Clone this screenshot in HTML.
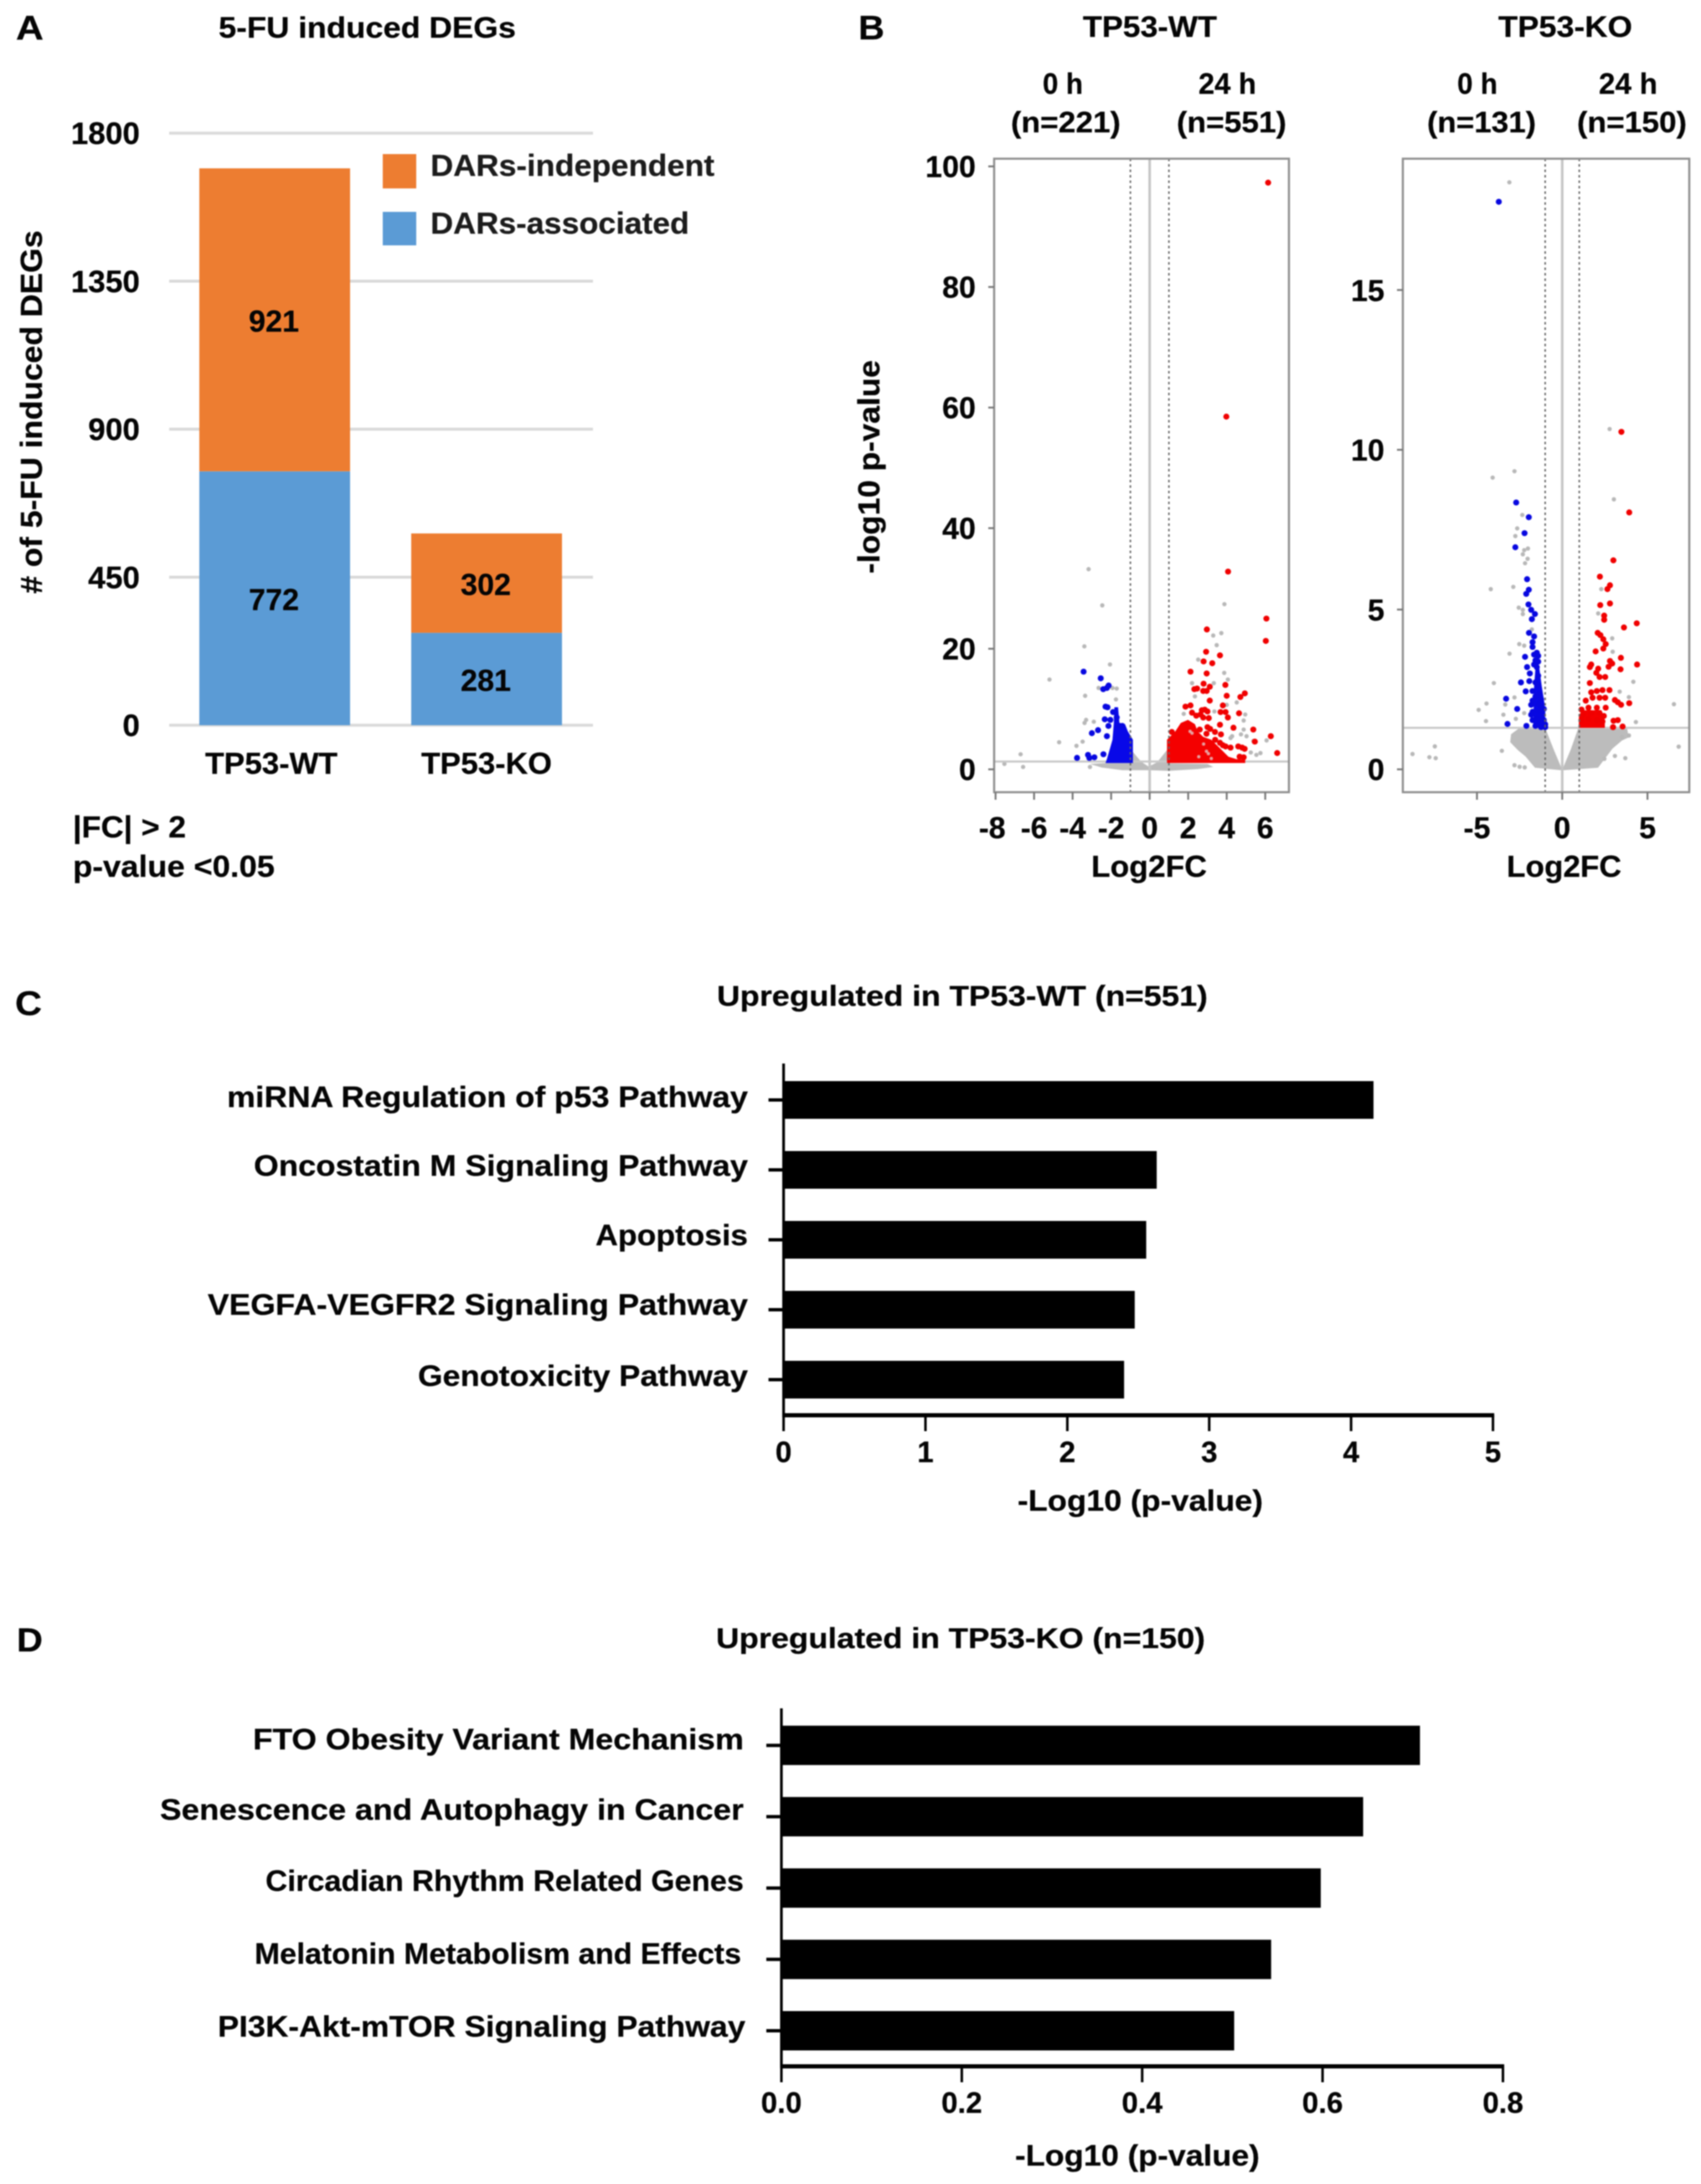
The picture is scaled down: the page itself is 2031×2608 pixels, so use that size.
<!DOCTYPE html>
<html lang="en">
<head>
<meta charset="utf-8">
<title>5-FU induced DEGs figure</title>
<style>
html,body{margin:0;padding:0;background:#fff;}
svg{display:block;filter:blur(0.7px);}
text{font-family:"Liberation Sans",Arial,sans-serif;font-weight:700;fill:#050505;stroke:#050505;stroke-width:0.3px;}
</style>
</head>
<body>
<svg id="figure" xmlns="http://www.w3.org/2000/svg" width="2031" height="2608" viewBox="0 0 2031 2608">
<rect width="2031" height="2608" fill="#fff"/>

<!-- Panel letters -->
<text x="19" y="47" font-size="41" textLength="33" lengthAdjust="spacingAndGlyphs">A</text>
<text x="1025" y="47" font-size="41" textLength="31" lengthAdjust="spacingAndGlyphs">B</text>
<text x="18" y="1212" font-size="41" textLength="32" lengthAdjust="spacingAndGlyphs">C</text>
<text x="20" y="1972" font-size="40" textLength="31" lengthAdjust="spacingAndGlyphs">D</text>

<!-- Panel A static text -->
<g id="panel-a">
<g id="a-grid"></g>
<g id="a-bars"></g>
<g id="a-ticks"></g>
<text x="261" y="45" font-size="35" textLength="355" lengthAdjust="spacingAndGlyphs">5-FU induced DEGs</text>
<text transform="translate(50,709) rotate(-90)" font-size="36" textLength="434" lengthAdjust="spacingAndGlyphs"># of 5-FU induced DEGs</text>
<rect x="457" y="184" width="40" height="41" fill="#ED7D31"/>
<rect x="457" y="253" width="40" height="40" fill="#5B9BD5"/>
<text x="514" y="210" font-size="36" textLength="339" lengthAdjust="spacingAndGlyphs" style="fill:#1c1c1c;stroke:#1c1c1c">DARs-independent</text>
<text x="514" y="279" font-size="36" textLength="309" lengthAdjust="spacingAndGlyphs" style="fill:#1c1c1c;stroke:#1c1c1c">DARs-associated</text>
<text x="245" y="924" font-size="36" textLength="158" lengthAdjust="spacingAndGlyphs">TP53-WT</text>
<text x="503" y="924" font-size="36" textLength="156" lengthAdjust="spacingAndGlyphs">TP53-KO</text>
<text x="87" y="1000" font-size="36" textLength="135" lengthAdjust="spacingAndGlyphs">|FC| &gt; 2</text>
<text x="87" y="1047" font-size="36" textLength="241" lengthAdjust="spacingAndGlyphs">p-value &lt;0.05</text>
</g>

<!-- Panel B static text -->
<g id="panel-b">
<text x="1293" y="44" font-size="35" textLength="160" lengthAdjust="spacingAndGlyphs">TP53-WT</text>
<text x="1789" y="44" font-size="35" textLength="160" lengthAdjust="spacingAndGlyphs">TP53-KO</text>
<text x="1245" y="112" font-size="35" textLength="48" lengthAdjust="spacingAndGlyphs">0 h</text>
<text x="1207" y="158" font-size="35" textLength="131" lengthAdjust="spacingAndGlyphs">(n=221)</text>
<text x="1431" y="112" font-size="35" textLength="69" lengthAdjust="spacingAndGlyphs">24 h</text>
<text x="1405" y="158" font-size="35" textLength="131" lengthAdjust="spacingAndGlyphs">(n=551)</text>
<text x="1740" y="112" font-size="35" textLength="48" lengthAdjust="spacingAndGlyphs">0 h</text>
<text x="1704" y="158" font-size="35" textLength="130" lengthAdjust="spacingAndGlyphs">(n=131)</text>
<text x="1909" y="112" font-size="35" textLength="70" lengthAdjust="spacingAndGlyphs">24 h</text>
<text x="1883" y="158" font-size="35" textLength="131" lengthAdjust="spacingAndGlyphs">(n=150)</text>
<text transform="translate(1050,685) rotate(-90)" font-size="36" textLength="255" lengthAdjust="spacingAndGlyphs">-log10 p-value</text>
<text x="1303" y="1047" font-size="36" textLength="138" lengthAdjust="spacingAndGlyphs">Log2FC</text>
<text x="1799" y="1047" font-size="36" textLength="137" lengthAdjust="spacingAndGlyphs">Log2FC</text>
<g id="volcano-wt"></g>
<g id="volcano-ko"></g>
</g>

<!-- Panel C static text -->
<g id="panel-c">
<text x="856" y="1201" font-size="34" textLength="586" lengthAdjust="spacingAndGlyphs">Upregulated in TP53-WT (n=551)</text>
<text x="271" y="1322" font-size="35" textLength="622" lengthAdjust="spacingAndGlyphs">miRNA Regulation of p53 Pathway</text>
<text x="303" y="1404" font-size="35" textLength="590" lengthAdjust="spacingAndGlyphs">Oncostatin M Signaling Pathway</text>
<text x="711" y="1487" font-size="35" textLength="182" lengthAdjust="spacingAndGlyphs">Apoptosis</text>
<text x="248" y="1570" font-size="35" textLength="645" lengthAdjust="spacingAndGlyphs">VEGFA-VEGFR2 Signaling Pathway</text>
<text x="499" y="1655" font-size="35" textLength="394" lengthAdjust="spacingAndGlyphs">Genotoxicity Pathway</text>
<text x="1215" y="1804" font-size="35" textLength="293" lengthAdjust="spacingAndGlyphs">-Log10 (p-value)</text>
<g id="c-chart"></g>
</g>

<!-- Panel D static text -->
<g id="panel-d">
<text x="855" y="1968" font-size="34" textLength="584" lengthAdjust="spacingAndGlyphs">Upregulated in TP53-KO (n=150)</text>
<text x="302" y="2089" font-size="35" textLength="586" lengthAdjust="spacingAndGlyphs">FTO Obesity Variant Mechanism</text>
<text x="191" y="2173" font-size="35" textLength="697" lengthAdjust="spacingAndGlyphs">Senescence and Autophagy in Cancer</text>
<text x="317" y="2258" font-size="35" textLength="571" lengthAdjust="spacingAndGlyphs">Circadian Rhythm Related Genes</text>
<text x="304" y="2345" font-size="35" textLength="581" lengthAdjust="spacingAndGlyphs">Melatonin Metabolism and Effects</text>
<text x="260" y="2432" font-size="35" textLength="630" lengthAdjust="spacingAndGlyphs">PI3K-Akt-mTOR Signaling Pathway</text>
<text x="1212" y="2586" font-size="35" textLength="292" lengthAdjust="spacingAndGlyphs">-Log10 (p-value)</text>
<g id="d-chart"></g>
</g>
</svg>

<script>
// ---- Panel A data ----
const stackedTicks = [0, 450, 900, 1350, 1800];
const associatedCounts = [772, 281];
const independentCounts = [921, 302];

// ---- Panel C / D data ----
const wtPathwayValues = [4.158, 2.63, 2.556, 2.475, 2.4];
const wtPathwayTicks = [0, 1, 2, 3, 4, 5];
const koPathwayValues = [0.708, 0.645, 0.598, 0.543, 0.502];
const koPathwayTicks = ["0.0", "0.2", "0.4", "0.6", "0.8"];

// ---- Volcano axis data ----
const wtXTicks = [-8, -6, -4, -2, 0, 2, 4, 6];
const wtYTicks = [0, 20, 40, 60, 80, 100];
const koXTicks = [-5, 0, 5];
const koYTicks = [0, 5, 10, 15];

// ---- Volcano WT data: [log2FC, -log10 p] ----
const wtGrayCloud = [[-3.1,0.9],[-2,1.1],[-0.87,2.9],[-0.45,1.3],[-0.05,0.45],[0.4,1.2],[0.9,3.2],[0.95,1],[3,0.9],[3.3,0.4],[2.5,0.05],[1,-0.25],[0,-0.15],[-1.4,-0.15],[-2.5,0.3]];
const wtRedCloud = [[0.9,4.9],[1.33,6.3],[1.62,7.7],[1.99,8.2],[2.35,7.5],[2.49,6.3],[2.78,5.4],[3.2,4.9],[3.65,3.5],[4.09,2.1],[4.5,1.7],[4.96,1.6],[4.96,1.05],[0.9,1.05]];
const wtBlueCloud = [[-0.87,4.9],[-1.13,6.3],[-1.28,7.5],[-1.57,7.7],[-1.64,10.3],[-1.83,10.3],[-1.86,7.7],[-1.93,4.9],[-2.22,1.7],[-2.29,1.05],[-0.87,1.05]];
const wtGrayPoints = [[-3.17,33.2],[-2.46,27.2],[-3.39,20.4],[-2.06,17.4],[-5.2,14.9],[-2.65,13.5],[-1.93,13.5],[-1.71,13.4],[-3.35,12.2],[-1.75,11.6],[-3.3,8.2],[-3.38,7.7],[-2.9,7.9],[-4.7,4.5],[-3.48,4.6],[-3.8,3.9],[-6.7,2.5],[-7.54,0.9],[-6.57,0.4],[-3.1,0.4],[3.88,27.4],[3.3,22.2],[3.72,22.6],[3.48,20.6],[2.52,18.2],[3.87,16],[4.06,14.9],[2.2,14.3],[3.33,14.3],[2.35,12.1],[4.52,11.1],[4,10.7],[1.77,9.2],[4.96,9.1],[4.88,8.1],[3.36,9.6],[4.28,5.5],[4.88,6.6],[4.74,5.8],[5.03,5.5],[4.2,5.2],[6.07,4.8],[5.25,2.8],[5.54,2.4],[5.75,2.7],[5.39,4.7]];
const wtBluePoints = [[-3.43,16.2],[-2.54,15.1],[-2.13,13.9],[-2.22,13.5],[-2.41,13.3],[-2.29,10.4],[-2.19,10.3],[-2.33,8.3],[-2.04,8.2],[-2.14,7.2],[-2.68,6.5],[-3,6],[-2.22,5.5],[-3.77,1.9],[-3.2,2.4],[-3.13,1.9],[-2.87,2],[-2.4,2.5],[-1.71,8.6],[-1.57,7.2],[-1.42,7.2],[-1.9,9.5]];
const wtRedPoints = [[4.07,32.8],[6.06,25],[6.03,21.3],[2.97,23.2],[2.93,19.5],[3.65,18.9],[2.8,17.9],[3.25,17.6],[2.12,16.2],[2.96,15.9],[2.8,14.2],[3.93,14],[3.12,13.7],[2.32,13.3],[2.46,13.4],[2.78,13],[2.96,13],[4.94,12.6],[4.71,12],[4,12.2],[3.12,11.4],[1.86,10.4],[2.12,10.6],[3.8,10.6],[2.71,9.8],[2.86,9.9],[3,9.6],[3.68,9.5],[3.94,9.5],[4.64,9.3],[2.2,9.4],[2.42,8.9],[2.64,9.1],[2.78,8.6],[3.07,8.5],[4.06,8.6],[3.65,7.4],[4.35,6.9],[5.38,6.6],[3,7],[3.14,6.7],[3.39,6.2],[3.7,5.8],[6.29,5.5],[5.46,4.6],[6.62,2.7],[3.65,4.4],[3.94,3.8],[4.2,3.6],[4.6,3.8],[4.8,3.6],[4.93,3.4],[4.67,2.1],[4.88,2],[2.6,6.6],[2.95,5.9],[3.4,4.9],[3.8,4],[1.15,6.2]];
// gray specks showing through the dense WT red cluster
const wtRedSpeckles = [[2.1,6.3],[2.2,6],[2.8,4.2],[2.95,3],[3.05,2.6],[2.55,2.1],[3.2,1.8]];
// top of the WT plot
const wtTopRedPoints = [[6.15,97.3],[3.98,58.5]];

// ---- Volcano KO data: [log2FC, -log10 p] ----
const koGrayCloud = [[-3,1.1],[-2.5,1.3],[-1,1.3],[-0.5,0.62],[-0.05,0.05],[0.05,0.05],[0.5,0.62],[0.95,1.3],[3.8,1.3],[3.9,1],[3.5,0.9],[2.95,0.65],[2.1,0.05],[0,-0.03],[-1.6,0.05],[-2.15,0.4],[-2.6,0.6],[-3.05,0.85]];
const koBlueCloud = [[-0.97,1.3],[-1.05,2.1],[-1.2,2.6],[-1.35,3.2],[-1.55,3.3],[-1.65,2.6],[-1.7,1.3]];
const koRedCloud = [[0.97,1.3],[0.98,1.7],[1.3,1.85],[2.3,1.85],[2.5,1.5],[2.5,1.3]];
const koGrayPoints = [[-3.1,18.37],[2.78,10.65],[-2.8,9.33],[-4.08,9.13],[3.03,8.45],[-2.34,7.96],[-2.64,7.54],[-2.75,7.3],[-2.01,6.91],[-2.23,6.86],[-2.31,6.73],[-2.03,6.59],[-2.18,6.45],[-4.19,5.64],[-2.87,5.71],[2.29,5.64],[2.11,4.88],[-2.55,5.06],[-2.31,4.99],[-2.31,4.86],[-1.78,4.38],[-2.52,3.92],[-2.23,3.87],[-3.09,3.62],[2.93,4.1],[2.96,3.68],[4.17,2.74],[-4.01,2.7],[3.37,2.43],[3.91,2.26],[-2.8,2.25],[-4.44,2.06],[-3.34,2.03],[-4.9,1.86],[-3.45,1.71],[-4.47,1.51],[-2.72,1.58],[-2.23,1.76],[4.32,1.48],[6.55,2.04],[6.83,0.71],[-7.47,0.72],[-8.78,0.48],[-7.79,0.38],[-7.42,0.35],[-3.54,0.58],[2.47,0.33],[3.09,0.42],[3.7,0.35],[3.91,1.06],[3.5,1.01],[-2.8,0.13],[-2.5,0.08],[-2.2,0.06]];
const koBluePoints = [[-3.72,17.76],[-2.7,8.35],[-1.96,7.89],[-2.21,7.39],[-2.75,6.95],[-2.06,5.95],[-1.96,5.62],[-2.11,5.49],[-1.98,5.16],[-1.82,4.99],[-1.6,4.86],[-1.78,4.7],[-1.95,4.27],[-1.65,4.16],[-1.74,3.98],[-1.74,3.83],[-1.49,3.65],[-1.65,3.59],[-1.41,3.55],[-2.18,3.52],[-1.57,3.41],[-1.41,3.37],[-1.65,3.28],[-1.49,3.2],[-2.06,3.2],[-1.9,3],[-1.41,2.93],[-2.42,2.72],[-1.93,2.76],[-1.57,2.72],[-1.41,2.63],[-2.14,2.44],[-1.74,2.45],[-1.33,2.37],[-3.29,2.21],[-1.57,2.28],[-1.24,2.19],[-1.74,2.15],[-1.41,2.06],[-2.64,1.89],[-1.82,2.02],[-1.24,1.97],[-1.08,1.89],[-1.74,1.8],[-1.41,1.8],[-1.16,1.76],[-3.21,1.42],[-2.1,1.36],[-1.82,1.71],[-1.49,1.62],[-1.24,1.58],[-1.08,1.54],[-1.74,1.54],[-1.41,1.45],[-1.16,1.41],[-1,1.41],[-1.57,1.36],[-1.24,1.32],[-1,1.32]];
const koRedPoints = [[3.47,10.56],[3.93,8.04],[3,6.54],[2.21,6.03],[2.8,5.76],[2.65,5.64],[2.23,5.14],[2.8,5.19],[2.46,4.81],[2.46,4.68],[4.37,4.57],[3.62,4.44],[2.08,4.27],[2.24,4.2],[2.41,4.07],[2.55,3.92],[2.41,3.78],[1.96,3.69],[3.44,3.49],[4.39,3.28],[2.8,3.39],[2.93,3.31],[2.72,3.21],[3.42,3.13],[1.7,3.28],[1.62,3.2],[2.11,3.15],[2,3.02],[2.19,2.89],[2.52,2.89],[1.62,2.7],[1.7,2.41],[2.03,2.45],[2.36,2.48],[2.77,2.48],[1.38,2.15],[1.78,2.24],[2.19,2.24],[2.52,2.24],[3.09,2.17],[3.26,2.1],[3.45,2.02],[3.93,2.07],[1.13,1.87],[1.54,1.93],[2.03,1.93],[2.55,1.93],[1.21,1.71],[1.7,1.76],[2.19,1.76],[2.44,1.67],[1.13,1.54],[1.54,1.58],[2.03,1.54],[2.36,1.5],[3.01,1.52],[3.26,1.54],[2.98,1.32],[3.54,1.34]];

const SVGNS = "http://www.w3.org/2000/svg";
function add(parent, tag, attrs, name) {
  const el = document.createElementNS(SVGNS, tag);
  for (const k in attrs) el.setAttribute(k, attrs[k]);
  
  
  parent.appendChild(el);
  return el;
}
function label(parent, str, x, y, size, anchor, name) {
  const el = add(parent, 'text', {x: x, y: y, 'font-size': size, 'text-anchor': anchor}, name);
  el.textContent = str;
  return el;
}

// ---- Panel A ----
(function () {
  const yA = v => 866 - v * (707 / 1800);
  const barLefts = [238, 491];
  const barWidth = 180;
  const grid = document.getElementById('a-grid');
  const bars = document.getElementById('a-bars');
  const ticks = document.getElementById('a-ticks');
  stackedTicks.forEach(t => {
    add(grid, 'line', {x1: 202, x2: 708, y1: yA(t), y2: yA(t), stroke: '#d9d9d9', 'stroke-width': 3.5}, 'grid-line-' + t);
    label(ticks, String(t), 167, yA(t) + 13, 37, 'end', 'y-tick-label-' + t);
  });
  associatedCounts.forEach((v, i) => {
    const top = v + independentCounts[i];
    const x = barLefts[i];
    add(bars, 'rect', {x: x, width: barWidth, y: yA(v), height: yA(0) - yA(v), fill: '#5B9BD5'}, 'bar-associated-' + i);
    add(bars, 'rect', {x: x, width: barWidth, y: yA(top), height: yA(v) - yA(top), fill: '#ED7D31'}, 'bar-independent-' + i);
    label(bars, String(v), x + barWidth / 2 - 1, (yA(v) + yA(0)) / 2 + 14, 36, 'middle', 'value-associated-' + i);
    label(bars, String(independentCounts[i]), x + barWidth / 2 - 1, (yA(top) + yA(v)) / 2 + 14, 36, 'middle', 'value-independent-' + i);
  });
})();

// ---- Panel B ----
function drawVolcano(rootId, cfg) {
  const root = document.getElementById(rootId);
  const sx = cfg.sx, sy = cfg.sy;
  const poly = (pts, fill, name) => add(root, 'polygon', {points: pts.map(p => sx(p[0]) + ',' + sy(p[1])).join(' '), fill: fill}, name);
  const dots = (pts, r, fill, name) => pts.forEach(p => add(root, 'circle', {cx: sx(p[0]), cy: sy(p[1]), r: r, fill: fill}, name));

  poly(cfg.grayCloud, '#bcbcbc', 'gray-point-cloud');
  dots(cfg.grayPoints, 2.6, '#b8b8b8', 'gray-point');

  add(root, 'line', {x1: sx(0), x2: sx(0), y1: cfg.top, y2: cfg.bottom, stroke: '#c4c4c4', 'stroke-width': 3}, 'zero-line');
  add(root, 'line', {x1: cfg.left, x2: cfg.right, y1: sy(1.3), y2: sy(1.3), stroke: '#c8c8c8', 'stroke-width': 2.5}, 'p-threshold-line');

  poly(cfg.blueCloud, '#0808e8', 'blue-point-cloud');
  poly(cfg.redCloud, '#f40000', 'red-point-cloud');
  dots(cfg.bluePoints, 3.6, '#0808e0', 'blue-point');
  dots(cfg.redPoints, 3.6, '#f00000', 'red-point');
  dots(cfg.speckles, 2, '#e8a0a0', 'speckle-point');

  [-1, 1].forEach(v => add(root, 'line', {x1: sx(v), x2: sx(v), y1: cfg.top, y2: cfg.bottom, stroke: '#666', 'stroke-width': 1.8, 'stroke-dasharray': '3 3.5'}, 'fold-change-threshold-line'));

  add(root, 'rect', {x: cfg.left, y: cfg.top, width: cfg.right - cfg.left, height: cfg.bottom - cfg.top, fill: 'none', stroke: '#8f8f8f', 'stroke-width': 2.5}, 'plot-box');

  cfg.xTicks.forEach(t => {
    add(root, 'line', {x1: sx(t), x2: sx(t), y1: cfg.bottom, y2: cfg.bottom + 9, stroke: '#777', 'stroke-width': 2.2}, 'x-tick');
    label(root, String(t), sx(t) - (t === -8 ? 4 : 0), 1001, 36, 'middle', 'x-tick-label');
  });
  cfg.yTicks.forEach(t => {
    add(root, 'line', {x1: cfg.left - 7, x2: cfg.left, y1: sy(t), y2: sy(t), stroke: '#777', 'stroke-width': 2.2}, 'y-tick');
    label(root, String(t), cfg.left - 22, sy(t) + 13, 36, 'end', 'y-tick-label');
  });
}

drawVolcano('volcano-wt', {
  sx: v => 1372.7 + 23 * v,
  sy: v => 918.7 - 7.2 * v,
  left: 1187, right: 1539, top: 189.5, bottom: 946,
  xTicks: wtXTicks, yTicks: wtYTicks,
  grayCloud: wtGrayCloud, blueCloud: wtBlueCloud, redCloud: wtRedCloud,
  grayPoints: wtGrayPoints, bluePoints: wtBluePoints, speckles: wtRedSpeckles,
  redPoints: wtRedPoints.concat(wtTopRedPoints)
});
drawVolcano('volcano-ko', {
  sx: v => 1865.3 + 20.36 * v,
  sy: v => 918.7 - 38.16 * v,
  left: 1675, right: 2017, top: 189.5, bottom: 946,
  xTicks: koXTicks, yTicks: koYTicks,
  grayCloud: koGrayCloud, blueCloud: koBlueCloud, redCloud: koRedCloud,
  grayPoints: koGrayPoints, bluePoints: koBluePoints, speckles: [], redPoints: koRedPoints
});

// ---- Panels C and D ----
function drawPathways(rootId, cfg) {
  const root = document.getElementById(rootId);
  cfg.values.forEach((v, i) => {
    const cy = cfg.firstCenter + cfg.step * i;
    add(root, 'rect', {x: cfg.sx(0), y: cy - cfg.barHeight / 2, width: cfg.sx(v) - cfg.sx(0), height: cfg.barHeight, fill: '#000'}, 'pathway-bar-' + i);
    add(root, 'line', {x1: cfg.sx(0) - 18, x2: cfg.sx(0), y1: cy, y2: cy, stroke: '#000', 'stroke-width': 4}, 'pathway-y-tick-' + i);
  });
  add(root, 'line', {x1: cfg.sx(0), x2: cfg.sx(0), y1: cfg.axisTop, y2: cfg.axisY + 2, stroke: '#000', 'stroke-width': 3.2}, 'pathway-y-axis');
  add(root, 'line', {x1: cfg.sx(0) - 1.5, x2: cfg.sx(Number(cfg.ticks[cfg.ticks.length - 1])) + 1.5, y1: cfg.axisY, y2: cfg.axisY, stroke: '#000', 'stroke-width': 5}, 'pathway-x-axis');
  cfg.ticks.forEach(t => {
    const x = cfg.sx(Number(t));
    add(root, 'line', {x1: x, x2: x, y1: cfg.axisY, y2: cfg.axisY + 19, stroke: '#000', 'stroke-width': 3}, 'pathway-x-tick');
    label(root, String(t), x, cfg.tickBaseline, 35, 'middle', 'pathway-x-tick-label');
  });
}
drawPathways('c-chart', {
  sx: v => 935.6 + 169.4 * v,
  values: wtPathwayValues, ticks: wtPathwayTicks,
  firstCenter: 1313.5, step: 83.5, barHeight: 45,
  axisTop: 1270, axisY: 1690, tickBaseline: 1746
});
drawPathways('d-chart', {
  sx: v => 933 + 1076.9 * v,
  values: koPathwayValues, ticks: koPathwayTicks,
  firstCenter: 2084.2, step: 85.2, barHeight: 47,
  axisTop: 2040, axisY: 2467.5, tickBaseline: 2523
});
</script>
</body>
</html>
